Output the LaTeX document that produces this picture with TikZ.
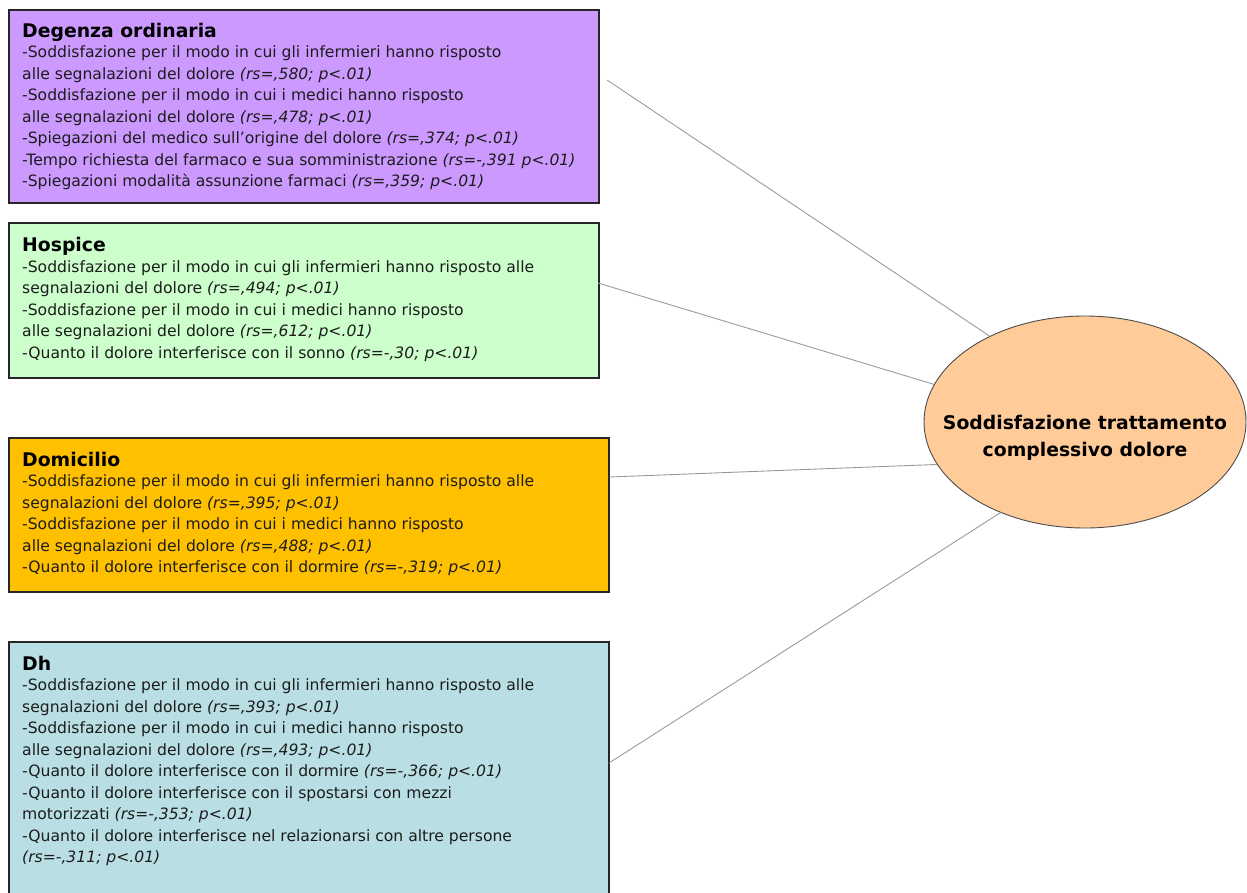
\documentclass[tikz,border=0pt]{standalone}
\usepackage{fontspec}
\setmainfont{DejaVu Sans}
\usetikzlibrary{shapes.geometric}
\definecolor{cpurple}{HTML}{CC99FF}
\definecolor{cgreen}{HTML}{CCFFCC}
\definecolor{corange}{HTML}{FFC000}
\definecolor{cblue}{HTML}{B9DFE4}
\definecolor{cpeach}{HTML}{FFCC99}
\definecolor{ctext}{HTML}{1C1C1C}
\definecolor{clink}{HTML}{9A9A9A}
\begin{document}
\begin{tikzpicture}[x=1pt,y=-1pt,
  panel/.style={draw=black!85, line width=1.6pt, anchor=north west, inner sep=0pt},
  body/.style={anchor=north west, align=left, inner sep=0pt, text=ctext,
    font=\fontsize{15.6}{21.5}\selectfont},
  head/.style={anchor=base west, inner sep=0pt, text=black,
    font=\bfseries\fontsize{18.8}{22}\selectfont},
  link/.style={draw=clink, line width=0.9pt},
]
\useasboundingbox (0,0) rectangle (1247,892);
\clip (0,0) rectangle (1247,892);

% panels
\node[panel, fill=cpurple, minimum width=590, minimum height=193] (b1) at (8,9) {};
\node[panel, fill=cgreen, minimum width=590, minimum height=155] (b2) at (8,222) {};
\node[panel, fill=corange, minimum width=600, minimum height=154] (b3) at (8,437) {};
\node[panel, fill=cblue, minimum width=600, minimum height=270] (b4) at (8,641) {};

% ellipse
\node[ellipse, draw=black!70, line width=0.9pt, fill=cpeach, minimum width=322, minimum height=212, inner sep=0pt] (e) at (1085,422) {};
\node[align=center, inner sep=0pt, text=black, font=\bfseries\fontsize{18.8}{27}\selectfont] (et) at (1085,438) {Soddisfazione trattamento\\complessivo dolore};

% panel 1
\node[head] (h1) at (22,37) {Degenza ordinaria};
\node[body] (t1) at (22,45.5) {-Soddisfazione per il modo in cui gli infermieri hanno risposto\\
alle segnalazioni del dolore \textit{(rs=,580; p<.01)}\\
-Soddisfazione per il modo in cui i medici hanno risposto\\
alle segnalazioni del dolore \textit{(rs=,478; p<.01)}\\
-Spiegazioni del medico sull’origine del dolore \textit{(rs=,374; p<.01)}\\
-Tempo richiesta del farmaco e sua somministrazione \textit{(rs=-,391 p<.01)}\\
-Spiegazioni modalità assunzione farmaci \textit{(rs=,359; p<.01)}};

% panel 2
\node[head] (h2) at (22,251) {Hospice};
\node[body] (t2) at (22,260) {-Soddisfazione per il modo in cui gli infermieri hanno risposto alle\\
segnalazioni del dolore \textit{(rs=,494; p<.01)}\\
-Soddisfazione per il modo in cui i medici hanno risposto\\
alle segnalazioni del dolore \textit{(rs=,612; p<.01)}\\
-Quanto il dolore interferisce con il sonno \textit{(rs=-,30; p<.01)}};

% panel 3
\node[head] (h3) at (22,466) {Domicilio};
\node[body] (t3) at (22,474.5) {-Soddisfazione per il modo in cui gli infermieri hanno risposto alle\\
segnalazioni del dolore \textit{(rs=,395; p<.01)}\\
-Soddisfazione per il modo in cui i medici hanno risposto\\
alle segnalazioni del dolore \textit{(rs=,488; p<.01)}\\
-Quanto il dolore interferisce con il dormire \textit{(rs=-,319; p<.01)}};

% panel 4
\node[head] (h4) at (22,670) {Dh};
\node[body] (t4) at (22,678.5) {-Soddisfazione per il modo in cui gli infermieri hanno risposto alle\\
segnalazioni del dolore \textit{(rs=,393; p<.01)}\\
-Soddisfazione per il modo in cui i medici hanno risposto\\
alle segnalazioni del dolore \textit{(rs=,493; p<.01)}\\
-Quanto il dolore interferisce con il dormire \textit{(rs=-,366; p<.01)}\\
-Quanto il dolore interferisce con il spostarsi con mezzi\\
motorizzati \textit{(rs=-,353; p<.01)}\\
-Quanto il dolore interferisce nel relazionarsi con altre persone\\
\textit{(rs=-,311; p<.01)}};

% connectors
\coordinate (s1) at (607,80);
\coordinate (s2) at (598,283);
\coordinate (s3) at (609,477);
\coordinate (s4) at (609,763);
\draw[link] (s1) -- (e.138.4);
\draw[link] (s2) -- (e.166.4);
\draw[link] (s3) -- (e.196.7);
\draw[link] (s4) -- (e.227.5);
\end{tikzpicture}
\end{document}
